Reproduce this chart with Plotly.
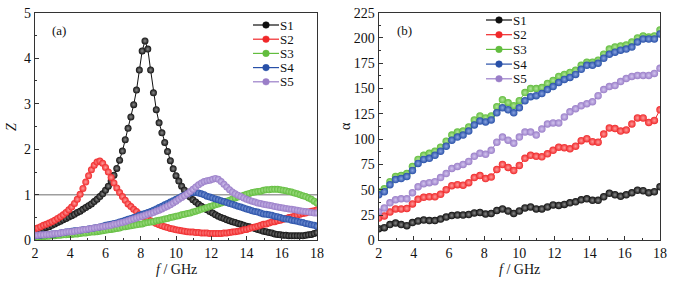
import plotly.graph_objects as go

# ---------------- data: panel (a) impedance matching Z ----------------
freq_a = [2.00, 2.16, 2.32, 2.48, 2.64, 2.80, 2.96, 3.12, 3.28, 3.44,
          3.60, 3.76, 3.92, 4.08, 4.24, 4.40, 4.56, 4.72, 4.88, 5.04,
          5.20, 5.36, 5.52, 5.68, 5.84, 6.00, 6.16, 6.32, 6.48, 6.64,
          6.80, 6.96, 7.12, 7.28, 7.44, 7.60, 7.76, 7.92, 8.08, 8.24,
          8.40, 8.56, 8.72, 8.88, 9.04, 9.20, 9.36, 9.52, 9.68, 9.84,
          10.00, 10.16, 10.32, 10.48, 10.64, 10.80, 10.96, 11.12, 11.28, 11.44,
          11.60, 11.76, 11.92, 12.08, 12.24, 12.40, 12.56, 12.72, 12.88, 13.04,
          13.20, 13.36, 13.52, 13.68, 13.84, 14.00, 14.16, 14.32, 14.48, 14.64,
          14.80, 14.96, 15.12, 15.28, 15.44, 15.60, 15.76, 15.92, 16.08, 16.24,
          16.40, 16.56, 16.72, 16.88, 17.04, 17.20, 17.36, 17.52, 17.68, 17.84,
          18.00]

z_s1 = [0.18, 0.20, 0.23, 0.25, 0.28, 0.30, 0.33, 0.36, 0.39, 0.42,
        0.45, 0.48, 0.51, 0.54, 0.57, 0.61, 0.64, 0.68, 0.72, 0.76,
        0.80, 0.85, 0.90, 0.96, 1.02, 1.10, 1.19, 1.30, 1.43, 1.58,
        1.76, 1.96, 2.21, 2.46, 2.71, 2.98, 3.30, 3.74, 4.16, 4.38,
        4.20, 3.74, 3.24, 2.87, 2.58, 2.36, 2.15, 1.95, 1.75, 1.57,
        1.42, 1.30, 1.19, 1.10, 1.02, 0.95, 0.89, 0.84, 0.79, 0.75,
        0.71, 0.67, 0.63, 0.60, 0.56, 0.53, 0.50, 0.48, 0.45, 0.43,
        0.41, 0.39, 0.37, 0.35, 0.33, 0.31, 0.30, 0.28, 0.26, 0.24,
        0.22, 0.20, 0.19, 0.17, 0.16, 0.14, 0.13, 0.12, 0.11, 0.11,
        0.10, 0.10, 0.10, 0.10, 0.10, 0.10, 0.11, 0.12, 0.13, 0.15,
        0.17]

z_s2 = [0.25, 0.27, 0.30, 0.33, 0.35, 0.38, 0.41, 0.44, 0.48, 0.52,
        0.56, 0.61, 0.67, 0.73, 0.81, 0.90, 1.01, 1.14, 1.28, 1.42,
        1.55, 1.65, 1.72, 1.74, 1.69, 1.60, 1.50, 1.38, 1.26, 1.15,
        1.05, 0.96, 0.88, 0.80, 0.74, 0.68, 0.63, 0.58, 0.54, 0.50,
        0.46, 0.43, 0.40, 0.37, 0.34, 0.32, 0.30, 0.28, 0.26, 0.25,
        0.23, 0.22, 0.21, 0.20, 0.19, 0.18, 0.18, 0.17, 0.17, 0.16,
        0.16, 0.16, 0.15, 0.15, 0.15, 0.15, 0.15, 0.16, 0.16, 0.17,
        0.18, 0.19, 0.20, 0.21, 0.23, 0.24, 0.26, 0.28, 0.29, 0.31,
        0.33, 0.35, 0.36, 0.38, 0.40, 0.41, 0.43, 0.44, 0.46, 0.48,
        0.50, 0.51, 0.53, 0.55, 0.57, 0.59, 0.60, 0.62, 0.64, 0.65,
        0.67]

z_s3 = [0.07, 0.07, 0.08, 0.08, 0.09, 0.09, 0.10, 0.10, 0.11, 0.11,
        0.12, 0.12, 0.13, 0.13, 0.14, 0.14, 0.15, 0.16, 0.16, 0.17,
        0.18, 0.18, 0.19, 0.20, 0.21, 0.22, 0.23, 0.24, 0.25, 0.26,
        0.27, 0.29, 0.30, 0.31, 0.32, 0.33, 0.34, 0.35, 0.36, 0.38,
        0.39, 0.40, 0.41, 0.43, 0.44, 0.45, 0.47, 0.48, 0.50, 0.51,
        0.53, 0.54, 0.56, 0.57, 0.59, 0.60, 0.62, 0.64, 0.66, 0.68,
        0.70, 0.72, 0.74, 0.76, 0.78, 0.80, 0.82, 0.84, 0.86, 0.88,
        0.91, 0.93, 0.95, 0.97, 0.99, 1.01, 1.03, 1.05, 1.06, 1.07,
        1.08, 1.10, 1.11, 1.11, 1.12, 1.12, 1.12, 1.11, 1.10, 1.09,
        1.07, 1.06, 1.04, 1.02, 1.00, 0.98, 0.96, 0.93, 0.90, 0.86,
        0.82]

z_s4 = [0.10, 0.11, 0.11, 0.12, 0.12, 0.13, 0.14, 0.14, 0.15, 0.16,
        0.17, 0.18, 0.19, 0.20, 0.21, 0.21, 0.22, 0.23, 0.24, 0.25,
        0.26, 0.27, 0.28, 0.29, 0.31, 0.33, 0.34, 0.35, 0.37, 0.38,
        0.40, 0.42, 0.44, 0.46, 0.48, 0.50, 0.52, 0.55, 0.57, 0.59,
        0.61, 0.63, 0.66, 0.69, 0.72, 0.75, 0.78, 0.81, 0.84, 0.87,
        0.90, 0.93, 0.96, 0.99, 1.02, 1.04, 1.05, 1.05, 1.04, 1.02,
        1.00, 0.97, 0.95, 0.93, 0.91, 0.89, 0.87, 0.85, 0.83, 0.81,
        0.79, 0.77, 0.75, 0.73, 0.71, 0.69, 0.67, 0.65, 0.63, 0.62,
        0.60, 0.58, 0.57, 0.56, 0.55, 0.53, 0.52, 0.50, 0.48, 0.47,
        0.46, 0.44, 0.43, 0.42, 0.40, 0.39, 0.37, 0.36, 0.34, 0.33,
        0.31]

z_s5 = [0.11, 0.11, 0.12, 0.12, 0.13, 0.13, 0.14, 0.15, 0.15, 0.16,
        0.17, 0.18, 0.19, 0.19, 0.20, 0.21, 0.22, 0.23, 0.24, 0.25,
        0.26, 0.27, 0.28, 0.29, 0.30, 0.31, 0.32, 0.33, 0.35, 0.36,
        0.38, 0.39, 0.41, 0.43, 0.45, 0.47, 0.49, 0.51, 0.53, 0.55,
        0.57, 0.59, 0.61, 0.64, 0.66, 0.69, 0.72, 0.75, 0.78, 0.82,
        0.86, 0.90, 0.94, 0.98, 1.02, 1.07, 1.12, 1.17, 1.22, 1.26,
        1.29, 1.31, 1.32, 1.34, 1.36, 1.34, 1.29, 1.23, 1.17, 1.11,
        1.06, 1.02, 0.99, 0.96, 0.93, 0.90, 0.88, 0.86, 0.84, 0.82,
        0.81, 0.79, 0.78, 0.77, 0.76, 0.74, 0.73, 0.72, 0.71, 0.70,
        0.69, 0.68, 0.67, 0.66, 0.65, 0.64, 0.63, 0.62, 0.61, 0.60,
        0.60]

# ---------------- data: panel (b) attenuation constant alpha ----------------
freq_b = [2.00, 2.32, 2.64, 2.96, 3.28, 3.60, 3.92, 4.24, 4.56, 4.88,
          5.20, 5.52, 5.84, 6.16, 6.48, 6.80, 7.12, 7.44, 7.76, 8.08,
          8.40, 8.72, 9.04, 9.36, 9.68, 10.00, 10.32, 10.64, 10.96, 11.28,
          11.60, 11.92, 12.24, 12.56, 12.88, 13.20, 13.52, 13.84, 14.16, 14.48,
          14.80, 15.12, 15.44, 15.76, 16.08, 16.40, 16.72, 17.04, 17.36, 17.68,
          18.00]

a_s1 = [11.5, 12.5, 15.5, 17.0, 15.5, 14.5, 17.5, 19.0, 20.0, 19.5,
        19.5, 21.0, 23.0, 24.5, 25.0, 25.0, 25.5, 27.0, 27.5, 26.0,
        26.5, 29.5, 31.0, 29.0, 26.5, 29.0, 32.0, 33.0, 31.0, 31.0,
        33.0, 35.0, 34.5, 35.5, 37.0, 38.0, 40.0, 41.0, 39.5, 39.5,
        43.0, 46.5, 45.0, 43.5, 45.0, 47.0, 49.5, 49.0, 47.0, 48.0,
        53.0]

a_s2 = [22.0, 24.0, 28.0, 31.0, 31.0, 31.5, 36.0, 40.5, 42.5, 43.0,
        43.0, 45.5, 50.0, 54.0, 55.0, 54.5, 57.0, 62.0, 64.0, 61.0,
        62.5, 70.0, 75.0, 72.0, 69.0, 74.0, 81.0, 84.0, 83.0, 82.5,
        85.5, 89.0, 92.0, 91.5, 90.5, 93.0, 98.5, 100.5, 97.5, 97.0,
        105.0, 111.0, 110.5, 108.0, 109.0, 115.0, 121.0, 121.0, 116.5, 118.5,
        129.0]

a_s3 = [48.0, 51.0, 58.0, 63.0, 64.0, 66.0, 73.0, 80.0, 84.0, 86.0,
        88.0, 92.0, 98.0, 104.0, 107.0, 108.0, 112.0, 119.0, 123.0, 121.0,
        123.0, 132.0, 139.0, 136.0, 133.0, 138.0, 146.0, 150.0, 150.0, 151.0,
        155.0, 158.0, 162.0, 164.0, 166.0, 168.0, 173.0, 176.0, 176.0, 178.0,
        184.0, 189.0, 191.0, 192.0, 193.0, 196.0, 200.0, 202.0, 201.0, 202.0,
        208.0]

a_s4 = [45.0, 48.0, 55.0, 60.0, 61.0, 63.0, 69.0, 76.0, 80.0, 81.0,
        84.0, 88.0, 93.0, 99.0, 102.0, 104.0, 108.0, 114.0, 118.0, 117.0,
        119.0, 126.0, 131.0, 129.0, 126.0, 131.0, 138.0, 142.0, 143.0, 145.0,
        149.0, 152.0, 156.0, 159.0, 161.0, 164.0, 169.0, 173.0, 173.0, 175.0,
        180.0, 184.0, 186.0, 188.0, 189.0, 191.0, 196.0, 199.0, 199.0, 199.0,
        204.0]

a_s5 = [28.0, 32.0, 37.0, 40.0, 41.0, 41.0, 47.0, 53.0, 56.0, 57.0,
        58.0, 62.0, 66.0, 71.0, 73.0, 75.0, 78.0, 83.0, 86.0, 85.0,
        89.0, 97.0, 102.0, 99.0, 96.0, 102.0, 107.0, 107.0, 104.0, 110.0,
        115.0, 116.0, 116.0, 122.0, 127.0, 130.0, 133.0, 135.0, 137.0, 143.0,
        149.0, 152.0, 153.0, 157.0, 160.0, 162.0, 163.0, 163.0, 163.0, 165.0,
        170.0]

names = ["S1", "S2", "S3", "S4", "S5"]
colors = ["#101010", "#f0282a", "#62bd3e", "#2850a8", "#9a7ec8"]
highlights = ["#8a8a8a", "#ff9a9a", "#b2e59a", "#8aa4e0", "#d2c4ee"]

W, H = 676, 285
FONT = "Liberation Serif"

fig = go.Figure()

series_a = [z_s1, z_s2, z_s3, z_s4, z_s5]
series_b = [a_s1, a_s2, a_s3, a_s4, a_s5]

for name, col, hl, ys in zip(names, colors, highlights, series_a):
    fig.add_trace(go.Scatter(
        x=freq_a, y=ys, name=name, mode="lines+markers", xaxis="x", yaxis="y",
        line=dict(color=col, width=1),
        marker=dict(size=7, color=col, gradient=dict(type="radial", color=hl),
                    line=dict(width=0)),
        showlegend=False))

for name, col, hl, ys in zip(names, colors, highlights, series_b):
    fig.add_trace(go.Scatter(
        x=freq_b, y=ys, name=name, mode="lines+markers", xaxis="x2", yaxis="y2",
        line=dict(color=col, width=1),
        marker=dict(size=7.5, color=col, gradient=dict(type="radial", color=hl),
                    line=dict(width=0)),
        showlegend=False))

# plot areas in pixels
ax_a = (35, 317)
ax_b = (378.7, 660)
y_top, y_bot = 12.7, 240.3
dom_y = [1 - y_bot / H, 1 - y_top / H]

axis_common = dict(
    showline=True, linecolor="#333333", linewidth=1.2, mirror=True,
    ticks="inside", ticklen=4, tickwidth=1, tickcolor="#333333",
    showgrid=False, zeroline=False, automargin=False,
    tickfont=dict(family=FONT, size=14, color="#111111"),
)

fig.update_layout(
    width=W, height=H,
    margin=dict(l=0, r=0, t=0, b=0),
    paper_bgcolor="white", plot_bgcolor="white",
    font=dict(family=FONT, size=14, color="#111111"),
    xaxis=dict(domain=[ax_a[0] / W, ax_a[1] / W], range=[2, 18], dtick=2, anchor="y",
               minor=dict(ticks="inside", ticklen=2, dtick=1, tickcolor="#333333"),
               **axis_common),
    yaxis=dict(domain=dom_y, range=[0, 5], dtick=1, anchor="x",
               minor=dict(ticks="inside", ticklen=2, dtick=0.5, tickcolor="#333333"),
               **axis_common),
    xaxis2=dict(domain=[ax_b[0] / W, ax_b[1] / W], range=[2, 18], dtick=2, anchor="y2",
                minor=dict(ticks="inside", ticklen=2, dtick=1, tickcolor="#333333"),
                **axis_common),
    yaxis2=dict(domain=dom_y, range=[0, 225], dtick=25, anchor="x2",
                minor=dict(ticks="inside", ticklen=2, dtick=12.5, tickcolor="#333333"),
                **axis_common),
)

# axis titles as annotations (fixed positions)
def txt(xpx, ypx, text, size=14, angle=0, xanchor="center"):
    fig.add_annotation(x=xpx / W, y=1 - ypx / H, xref="paper", yref="paper",
                       text=text, showarrow=False, textangle=angle,
                       borderpad=0, borderwidth=0,
                       font=dict(family=FONT, size=size, color="#111111"),
                       xanchor=xanchor, yanchor="middle")

txt(176, 269, "<i>f</i> / GHz")
txt(519, 269, "<i>f</i> / GHz")
txt(11, 127, "<i>Z</i>", angle=-90)
txt(345, 126, "α", angle=-90)
txt(59, 30, "(a)", size=13)
txt(404, 30, "(b)", size=13)

# reference line Z = 1
fig.add_shape(type="line", xref="x", yref="y", x0=2, x1=18, y0=1, y1=1,
              line=dict(color="#9e9e9e", width=1.5), layer="below")

# custom compact legends
def add_legend(x0px, x1px, textx, ys_px):
    for name, col, ypx in zip(names, colors, ys_px):
        yp = 1 - ypx / H
        fig.add_shape(type="line", xref="paper", yref="paper",
                      x0=x0px / W, x1=x1px / W, y0=yp, y1=yp,
                      line=dict(color=col, width=1.2))
        cx = (x0px + x1px) / 2
        r = 3.3
        fig.add_shape(type="circle", xref="paper", yref="paper",
                      x0=(cx - r) / W, x1=(cx + r) / W,
                      y0=yp - r / H, y1=yp + r / H,
                      fillcolor=col, line=dict(color=col, width=0.5))
        txt(textx, ypx, name, size=13, xanchor="left")

add_legend(253, 279, 279.5, [25.0, 39.2, 53.4, 67.6, 81.8])
add_legend(486, 512, 512.5, [20.0, 34.7, 49.4, 64.1, 78.8])

fig.write_html(
    "out.html",
    config={"displayModeBar": False},
    post_script="document.body.style.margin='0';document.body.style.overflow='hidden';",
)
